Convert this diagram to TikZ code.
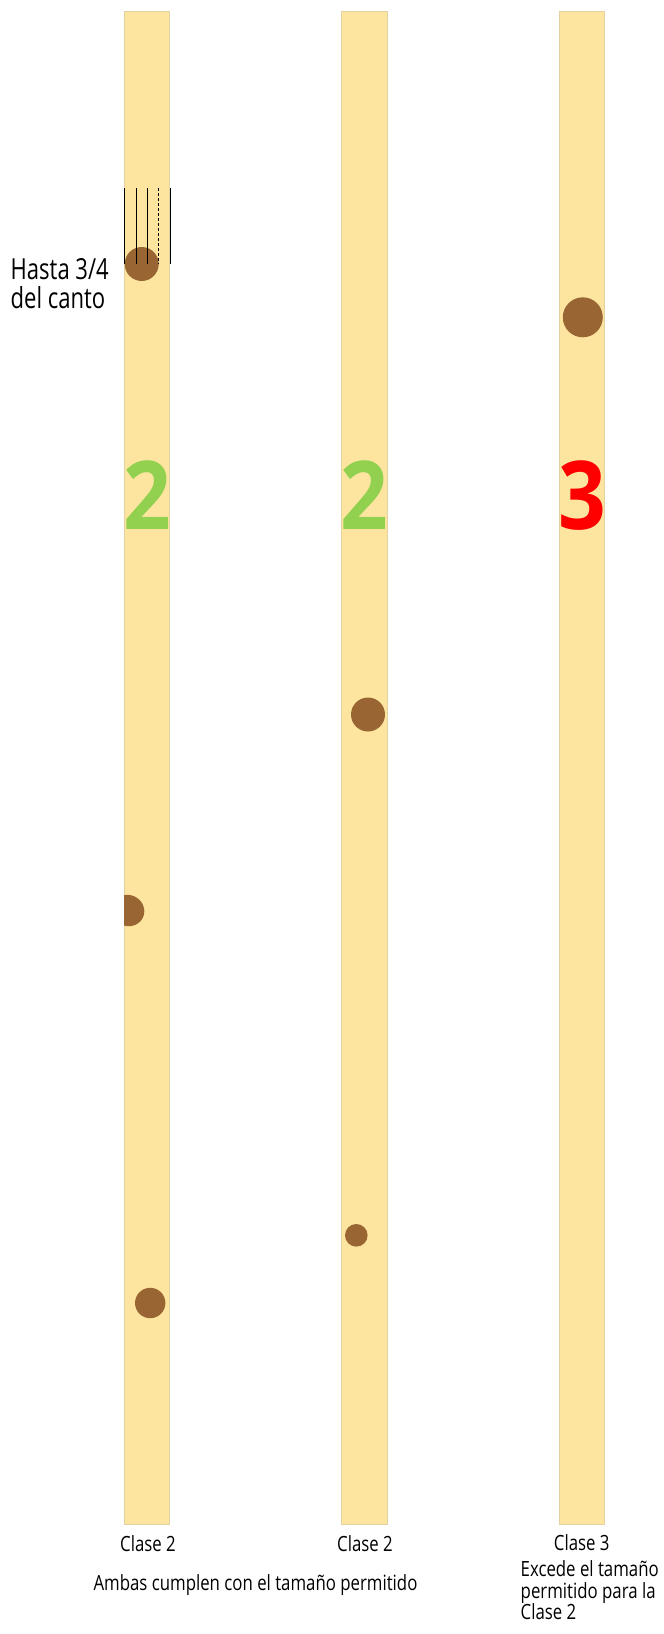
\documentclass[tikz,border=0pt]{standalone}
\usepackage{fontspec}
\setmainfont{Open Sans}[FakeStretch=0.76]
\newfontfamily\capfont{Open Sans}[FakeStretch=0.8]
\newfontfamily\bigdigit{Open Sans}[FakeStretch=0.88]
\usepackage{tikz}

\definecolor{wood}{HTML}{FDE59F}
\definecolor{woodedge}{HTML}{E2D2A2}
\definecolor{knotbrown}{HTML}{996633}
\definecolor{okgreen}{HTML}{92D050}

\begin{document}
\begin{tikzpicture}[x=1pt, y=-1pt,
  board/.style={fill=wood, draw=woodedge, line width=0.8pt},
  knot/.style={fill=knotbrown},
  gauge/.style={draw=black, line width=0.7pt},
  classnum/.style={font=\bigdigit\bfseries\fontsize{95}{95}\selectfont, inner sep=0pt, anchor=base},
  caption/.style={font=\capfont\fontsize{21}{21.7}\selectfont, inner sep=0pt}]

\useasboundingbox (0,0) rectangle (664,1634);

% Boards
\draw[board] (124,11.7) rectangle (169.7,1524.3);
\draw[board] (341.3,11.7) rectangle (387.3,1524.3);
\draw[board] (559.3,11.7) rectangle (604.7,1524.3);

% Knots on first board
\fill[knot] (141.7,264) circle (17);
\begin{scope}
  \clip (124,11.7) rectangle (169.7,1524.3);
  \fill[knot, rotate around={-25:(128,910.5)}] (128,910.5) ellipse (16.5 and 15.5);
\end{scope}
\fill[knot] (150.2,1303) circle (15.2);

% Knots on second board
\fill[knot] (368,714.5) circle (17);
\fill[knot] (356.3,1235.3) circle (11.3);

% Knot on third board
\fill[knot] (582.8,317.3) circle (20);

% Edge divisions
\foreach \xg in {124.3, 136, 147.3, 170}
  \draw[gauge] (\xg,188.3) -- (\xg,264.3);
\draw[gauge, dash pattern=on 3pt off 2pt] (158.3,188.3) -- (158.3,264.3);

\node[anchor=base west, inner sep=0pt, font=\fontsize{29}{29}\selectfont] (hasta) at (10.5,279) {Hasta 3/4};
\node[anchor=base west, inner sep=0pt, font=\fontsize{29}{29}\selectfont] (canto) at (10.5,308.3) {del canto};

% Class numbers
\node[classnum, text=okgreen] (numa) at (147,529.3) {2};
\node[classnum, text=okgreen] (numb) at (364.3,529.3) {2};
\node[classnum, text=red] (numc) at (582,529.3) {3};

% Captions
\node[caption, anchor=base] (clasea) at (148,1551) {Clase 2};
\node[caption, anchor=base] (claseb) at (365,1551) {Clase 2};
\node[caption, anchor=base] (clasec) at (581.7,1550.7) {Clase 3};
\node[caption, anchor=base] (ambas) at (255.5,1590.7) {Ambas cumplen con el tamaño permitido};
\node[caption, anchor=base west] (excede) at (520.5,1576) {Excede el tamaño};
\node[caption, anchor=base west] (permitido) at (520.5,1598) {permitido para la};
\node[caption, anchor=base west] (clased) at (520.5,1619.3) {Clase 2};

\end{tikzpicture}
\end{document}
